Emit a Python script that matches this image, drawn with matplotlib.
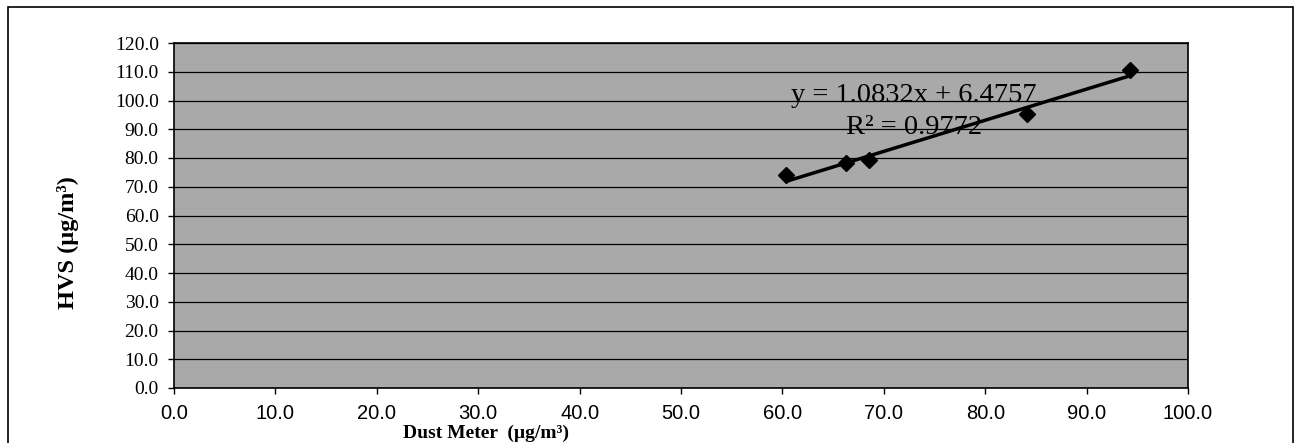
import matplotlib
matplotlib.use('Agg')
import matplotlib.pyplot as plt
from matplotlib.patches import Rectangle
import numpy as np

# dust meter vs HVS readings
dust_meter = [60.4, 66.3, 68.5, 84.1, 94.3]
hvs = [74.0, 78.2, 79.3, 95.4, 110.6]
slope, intercept = 1.0832, 6.4757
r2 = 0.9772

x_ticks = np.arange(0, 101, 10)
y_ticks = np.arange(0, 121, 10)

fig = plt.figure(figsize=(12.95, 4.43), dpi=100)
ax = fig.add_axes([174 / 1295, 1 - 388 / 443, (1188 - 174) / 1295, (388 - 43) / 443])
ax.set_facecolor('#a9a9a9')

# trendline from first to last point
tx = np.array([min(dust_meter), max(dust_meter)])
ax.plot(tx, slope * tx + intercept, color='black', lw=2.5, zorder=3)
ax.plot(dust_meter, hvs, 'D', color='black', ms=8, zorder=4)

ax.set_xlim(0, 100)
ax.set_ylim(0, 120)
ax.set_xticks(x_ticks)
ax.set_yticks(y_ticks)
ax.set_xticklabels([f'{v:.1f}' for v in x_ticks], family='Liberation Sans', fontsize=14.5)
ax.set_yticklabels([f'{v:.1f}' for v in y_ticks], family='Liberation Serif', fontsize=14)
ax.tick_params(direction='out', length=4, width=1, color='black')
ax.tick_params(axis='x', pad=7.5)
ax.tick_params(axis='y', pad=7)
ax.yaxis.grid(True, color='black', lw=0.9)
ax.set_axisbelow(True)
for s in ax.spines.values():
    s.set_color('black')
    s.set_linewidth(1.2)

ax.text(73.0, 101.7, f'y = {slope}x + {intercept}', ha='center', va='center',
        family='Liberation Serif', fontsize=20.5, zorder=5)
ax.text(73.0, 90.6, f'R² = {r2}', ha='center', va='center',
        family='Liberation Serif', fontsize=20.5, zorder=5)

fig.text(486 / 1295, 1 - 433 / 443, 'Dust Meter  (µg/m³)', ha='center', va='center',
         family='Liberation Serif', fontweight='bold', fontsize=14)
fig.text(68 / 1295, 1 - 243 / 443, 'HVS (µg/m³)', ha='center', va='center', rotation=90,
         family='Liberation Serif', fontweight='bold', fontsize=17.5)

# outer chart frame
fig.patches.append(Rectangle((8 / 1295, -0.05), (1293 - 8) / 1295, 1.05 - 7 / 443,
                             transform=fig.transFigure, fill=False, edgecolor='black', lw=1.2))

fig.savefig('out.png', dpi=100)
